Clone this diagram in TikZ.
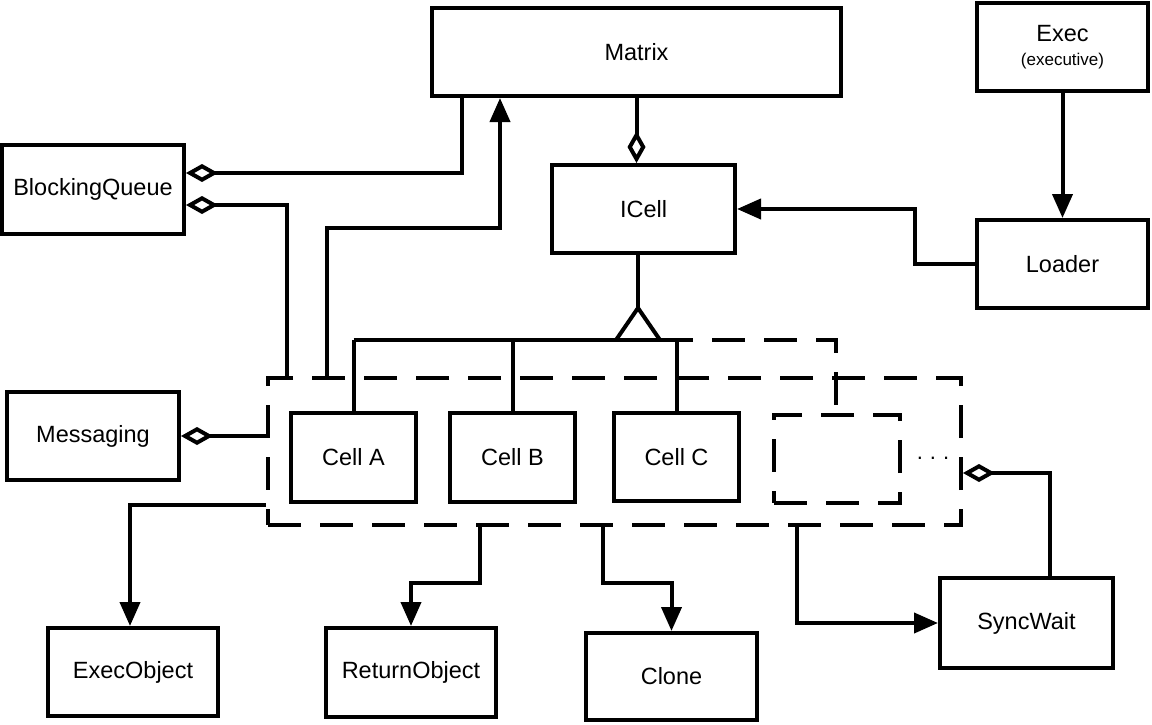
\documentclass[tikz,border=0pt]{standalone}
\usepackage{fontspec}
\setmainfont{Liberation Sans}
\usetikzlibrary{arrows.meta}
\begin{document}
\begin{tikzpicture}[x=1pt,y=-1pt,
  lw/.style={line width=4pt},
  box/.style={draw,lw,rectangle,inner sep=0pt,font=\fontsize{23.5}{28}\selectfont,align=center},
  dbox/.style={draw,lw,rectangle,inner sep=0pt,dash pattern=on 33pt off 19pt},
  arr/.style={lw,-{Triangle[length=24pt,width=20pt]}},
  aggs/.style={lw,{Diamond[open,length=32pt,width=18pt]}-},
  agge/.style={lw,-{Diamond[open,length=32pt,width=18pt]}},
  dsh/.style={lw,dash pattern=on 33pt off 19pt}]
\useasboundingbox (0,0) rectangle (1152,725);
% boxes
\node[box,minimum width=409pt,minimum height=88pt] (matrix) at (636.5,52) {Matrix};
\node[box,minimum width=171pt,minimum height=88pt] (exec) at (1062.5,47) {Exec\\[-4pt]{\fontsize{17}{20}\selectfont(executive)}};
\node[box,minimum width=182pt,minimum height=89pt] (bq) at (93,189.5) {BlockingQueue};
\node[box,minimum width=183pt,minimum height=88pt] (icell) at (643.5,209) {ICell};
\node[box,minimum width=171pt,minimum height=88pt] (loader) at (1062.5,264) {Loader};
\node[box,minimum width=172pt,minimum height=88pt] (msg) at (93,436) {Messaging};
\node[dbox,minimum width=693pt,minimum height=147pt] (big) at (614.5,451.5) {};
\node[box,minimum width=125pt,minimum height=89pt] (ca) at (353.5,457.5) {Cell A};
\node[box,minimum width=125pt,minimum height=89pt] (cb) at (512.5,457.5) {Cell B};
\node[box,minimum width=125pt,minimum height=88pt] (cc) at (676.5,457) {Cell C};
\node[dbox,minimum width=126pt,minimum height=88pt] (inner) at (837,459) {};
\node[font=\fontsize{22}{26}\selectfont] (dots) at (933,458) {.\hspace{7pt}.\hspace{7pt}.};
\node[box,minimum width=170pt,minimum height=88pt] (eo) at (133,672) {ExecObject};
\node[box,minimum width=170pt,minimum height=89pt] (ro) at (411,672.5) {ReturnObject};
\node[box,minimum width=171pt,minimum height=87pt] (clone) at (671.5,676.5) {Clone};
\node[box,minimum width=173pt,minimum height=90pt] (sw) at (1026.5,623) {SyncWait};
% inheritance
\coordinate (apex) at (638,308);
\draw[lw] (icell.south -| apex) -- (apex);
\draw[lw,line join=miter] (616,340) -- (apex) -- (660,340);
\draw[lw] (ca.north |- 0,340) -- (660,340);
\draw[dsh] (660,340) -- (836,340) -- (836,0 |- inner.north);
\draw[lw] (ca.north |- 0,340) -- (ca.north);
\draw[lw] (cb.north |- 0,340) -- (cb.north);
\draw[lw] (cc.north |- 0,340) -- (cc.north);
% aggregations
\draw[agge] (matrix.south) -- (matrix.south |- icell.north);
\draw[aggs] (bq.east |- 0,173) -| (462,0 |- matrix.south);
\draw[aggs] (bq.east |- 0,205) -| (287,0 |- big.north);
\draw[aggs] (msg.east) -- (msg.east -| big.west);
\draw[aggs] (big.east |- 0,473) -| (1050,0 |- sw.north);
% arrows
\draw[arr] (327,0 |- big.north) -- (327,228) -| (500,0 |- matrix.south);
\draw[arr] (loader.west) -- (915,0 |- loader.west) |- (icell.east);
\draw[arr] (exec.south) -- (loader.north);
\draw[arr] (big.west |- 0,505) -| (eo.north -| 130,0);
\draw[arr] (480,0 |- big.south) -- (480,583) -| (ro.north);
\draw[arr] (603,0 |- big.south) -- (603,583) -| (clone.north);
\draw[arr] (797,0 |- big.south) |- (sw.west);
\end{tikzpicture}
\end{document}
